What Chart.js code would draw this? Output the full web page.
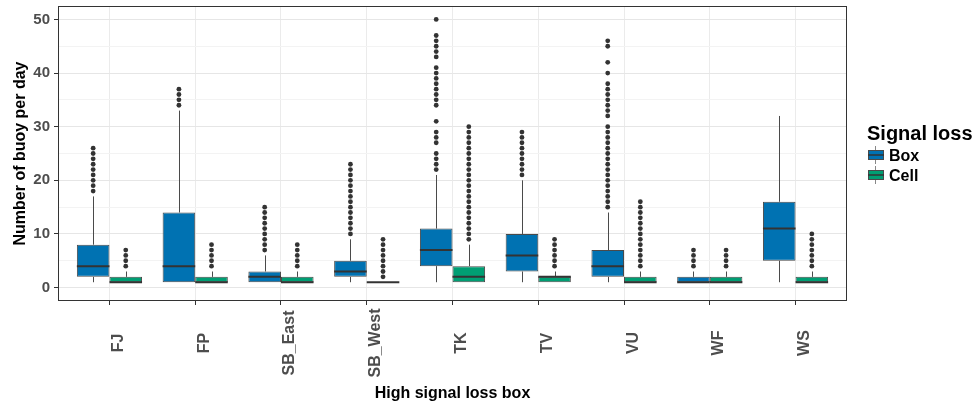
<!DOCTYPE html>
<html lang="en">
<head>
<meta charset="UTF-8">
<title>High signal loss box</title>
<script src="https://cdn.jsdelivr.net/npm/chart.js"></script>
<style>
  html, body { margin: 0; padding: 0; background: #ffffff; }
  #wrap { width: 977px; height: 405px; }
</style>
</head>
<body>
<div id="wrap"><canvas id="chart" width="977" height="405"></canvas></div>
<script>
// categories on the x axis
const categories = ['FJ', 'FP', 'SB_East', 'SB_West', 'TK', 'TV', 'VU', 'WF', 'WS'];

// y axis ticks
const yMajorTicks = [0, 10, 20, 30, 40, 50];
const yMinorTicks = [5, 15, 25, 35, 45];

// "Box" signal loss: box statistics per category
const boxWhiskerLow = [1, 1, 1, 1, 1, 1, 1, 1, 1];
const boxQ1 = [2, 1, 1, 2, 4, 3, 2, 1, 5];
const boxMedian = [4, 4, 2, 3, 7, 6, 4, 1, 11];
const boxQ3 = [8, 14, 3, 5, 11, 10, 7, 2, 16];
const boxWhiskerHigh = [17, 33, 6, 9, 21, 20, 14, 3, 32];
const boxOutliers = [
  [18, 19, 20, 21, 22, 23, 24, 25, 26],
  [34, 35, 36, 37],
  [7, 8, 9, 10, 11, 12, 13, 14, 15],
  [10, 11, 12, 13, 14, 15, 16, 17, 18, 19, 20, 21, 22, 23],
  [22, 23, 24, 25, 27, 28, 29, 31, 34, 35, 36, 37, 38, 39, 40, 41, 43, 44, 45, 46, 47, 50],
  [21, 22, 23, 24, 25, 26, 27, 28, 29],
  [15, 16, 17, 18, 19, 20, 21, 22, 23, 24, 25, 26, 27, 28, 29, 30, 32, 33, 34, 35, 36, 37, 38, 40, 42, 45, 46],
  [4, 5, 6, 7],
  []
];

// "Cell" signal loss: box statistics per category
const cellWhiskerLow = [1, 1, 1, 1, 1, 1, 1, 1, 1];
const cellQ1 = [1, 1, 1, 1, 1, 1, 1, 1, 1];
const cellMedian = [1, 1, 1, 1, 2, 2, 1, 1, 1];
const cellQ3 = [2, 2, 2, 1, 4, 2, 2, 2, 2];
const cellWhiskerHigh = [3, 3, 3, 1, 8, 3, 3, 3, 3];
const cellOutliers = [
  [4, 5, 6, 7],
  [4, 5, 6, 7, 8],
  [4, 5, 6, 7, 8],
  [2, 3, 4, 5, 6, 7, 8, 9],
  [9, 10, 11, 12, 13, 14, 15, 16, 17, 18, 19, 20, 21, 22, 23, 24, 25, 26, 27, 28, 29, 30],
  [4, 5, 6, 7, 8, 9],
  [4, 5, 6, 7, 8, 9, 10, 11, 12, 13, 14, 15, 16],
  [4, 5, 6, 7],
  [4, 5, 6, 7, 8, 9, 10]
];

const FONT = "'Liberation Sans', Arial, sans-serif";
const GROUP_WIDTH = 0.76;          // share of a category taken by the two boxes
const DODGE = GROUP_WIDTH / 4;     // centre of each box relative to the category
const OUTLINE = '#4a4a4a';

const series = [
  { label: 'Box', color: '#0072B2', lo: boxWhiskerLow, q1: boxQ1, med: boxMedian, q3: boxQ3, hi: boxWhiskerHigh, out: boxOutliers, shift: -DODGE },
  { label: 'Cell', color: '#009E73', lo: cellWhiskerLow, q1: cellQ1, med: cellMedian, q3: cellQ3, hi: cellWhiskerHigh, out: cellOutliers, shift: DODGE }
];

function boxData(s) {
  return categories.map((c, i) => ({ x: i, y: [s.q1[i], s.q3[i]] }));
}

function outlierData(s) {
  const pts = [];
  s.out.forEach((vals, i) => vals.forEach(v => pts.push({ x: i + s.shift, y: v })));
  return pts;
}

const boxDatasets = series.map(s => ({
  type: 'bar',
  label: s.label,
  data: boxData(s),
  backgroundColor: s.color,
  borderColor: OUTLINE,
  borderWidth: 1,
  borderSkipped: false,
  categoryPercentage: GROUP_WIDTH,
  barPercentage: 1
}));

const outlierDatasets = series.map(s => ({
  type: 'scatter',
  label: s.label + ' outliers',
  data: outlierData(s),
  backgroundColor: '#333333',
  borderWidth: 0,
  pointRadius: 2.4
}));

// whiskers under the boxes, medians on top
const boxplotParts = {
  id: 'boxplotParts',
  beforeDatasetsDraw(chart) {
    const { ctx, scales: { y } } = chart;
    ctx.save();
    ctx.strokeStyle = OUTLINE;
    ctx.lineWidth = 1;
    series.forEach((s, d) => {
      chart.getDatasetMeta(d).data.forEach((bar, i) => {
        const x = Math.round(bar.x) + 0.5;
        ctx.beginPath();
        ctx.moveTo(x, y.getPixelForValue(s.hi[i]));
        ctx.lineTo(x, y.getPixelForValue(s.q3[i]));
        ctx.moveTo(x, y.getPixelForValue(s.q1[i]));
        ctx.lineTo(x, y.getPixelForValue(s.lo[i]));
        ctx.stroke();
      });
    });
    ctx.restore();
  },
  afterDatasetsDraw(chart) {
    const { ctx, scales: { y } } = chart;
    ctx.save();
    ctx.strokeStyle = '#333333';
    ctx.lineWidth = 2;
    series.forEach((s, d) => {
      chart.getDatasetMeta(d).data.forEach((bar, i) => {
        const py = y.getPixelForValue(s.med[i]);
        ctx.beginPath();
        ctx.moveTo(bar.x - bar.width / 2, py);
        ctx.lineTo(bar.x + bar.width / 2, py);
        ctx.stroke();
      });
    });
    ctx.restore();
  },
  afterDraw(chart) {
    const { ctx, chartArea: a, scales: { x } } = chart;
    ctx.save();
    // panel border
    ctx.strokeStyle = '#333333';
    ctx.lineWidth = 1;
    ctx.strokeRect(a.left + 0.5, a.top + 0.5, a.right - a.left - 1, a.bottom - a.top - 1);

    // vertical category labels, centred like ggplot
    ctx.fillStyle = '#4d4d4d';
    ctx.font = 'bold 16px ' + FONT;
    ctx.textAlign = 'center';
    ctx.textBaseline = 'alphabetic';
    categories.forEach((c, i) => {
      ctx.save();
      ctx.translate(x.getPixelForValue(i) + 13.5, a.bottom + 42);
      ctx.rotate(-Math.PI / 2);
      ctx.fillText(c, 0, 0);
      ctx.restore();
    });

    // legend
    const lx = a.right + 20;
    ctx.fillStyle = '#000000';
    ctx.textAlign = 'left';
    ctx.font = 'bold 20px ' + FONT;
    ctx.fillText('Signal loss', lx, 140);
    ctx.font = 'bold 16px ' + FONT;
    series.forEach((s, k) => {
      const cy = 155 + k * 20;
      ctx.strokeStyle = '#888888';
      ctx.lineWidth = 1;
      ctx.beginPath();
      ctx.moveTo(lx + 8.5, cy - 9);
      ctx.lineTo(lx + 8.5, cy + 9);
      ctx.stroke();
      ctx.fillStyle = s.color;
      ctx.fillRect(lx + 1, cy - 5, 16, 10);
      ctx.strokeStyle = OUTLINE;
      ctx.strokeRect(lx + 1.5, cy - 4.5, 15, 9);
      ctx.strokeStyle = '#333333';
      ctx.lineWidth = 1.5;
      ctx.beginPath();
      ctx.moveTo(lx + 1, cy);
      ctx.lineTo(lx + 17, cy);
      ctx.stroke();
      ctx.fillStyle = '#000000';
      ctx.fillText(s.label, lx + 22, cy + 6);
    });
    ctx.restore();
  }
};

new Chart(document.getElementById('chart'), {
  data: { datasets: [...boxDatasets, ...outlierDatasets] },
  options: {
    responsive: false,
    animation: false,
    layout: { padding: { top: 6, right: 130, left: 0, bottom: 0 } },
    plugins: { legend: { display: false }, tooltip: { enabled: false } },
    scales: {
      x: {
        type: 'linear',
        min: -0.6,
        max: 8.6,
        offset: false,
        afterBuildTicks: scale => { scale.ticks = categories.map((c, i) => ({ value: i })); },
        afterFit: scale => { scale.height = 104; scale.paddingLeft = 0; scale.paddingRight = 0; },
        ticks: { display: false },
        grid: { color: '#ebebeb', lineWidth: 1, tickColor: '#333333', tickLength: 4, offset: false },
        border: { display: false },
        title: {
          display: true,
          text: 'High signal loss box',
          color: '#000000',
          font: { family: FONT, size: 16, weight: 'bold' },
          padding: { top: 0, bottom: 2 }
        }
      },
      y: {
        type: 'linear',
        min: -2.5,
        max: 52.5,
        afterBuildTicks: scale => {
          scale.ticks = [...yMajorTicks, ...yMinorTicks].sort((p, q) => p - q).map(v => ({ value: v }));
        },
        afterFit: scale => { scale.width = 58; scale.paddingTop = 0; scale.paddingBottom = 0; },
        ticks: {
          callback: v => (yMajorTicks.includes(v) ? String(v) : ''),
          color: '#4d4d4d',
          font: { family: FONT, size: 15, weight: 'bold' },
          padding: 4
        },
        grid: {
          color: c => (yMajorTicks.includes(c.tick.value) ? '#e6e6e6' : '#f3f3f3'),
          lineWidth: 1,
          tickColor: c => (yMajorTicks.includes(c.tick.value) ? '#333333' : 'rgba(0,0,0,0)'),
          tickLength: 4
        },
        border: { display: false },
        title: {
          display: true,
          text: 'Number of buoy per day',
          color: '#000000',
          font: { family: FONT, size: 16, weight: 'bold' },
          padding: { top: 11, bottom: 0 }
        }
      }
    }
  },
  plugins: [boxplotParts]
});
</script>
</body>
</html>
